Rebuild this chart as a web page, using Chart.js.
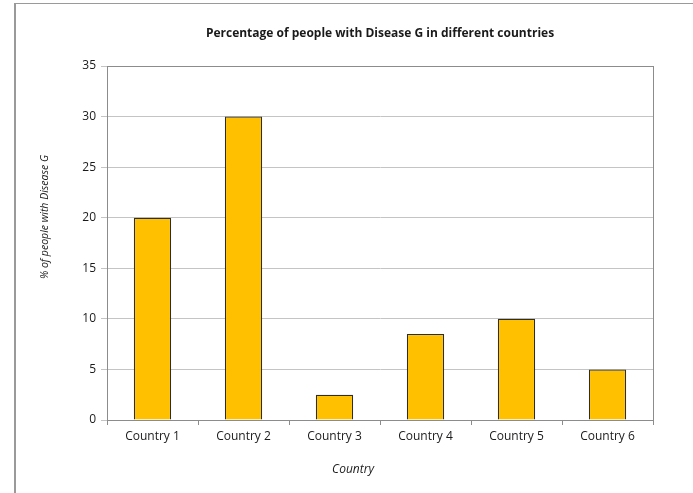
<!DOCTYPE html>
<html>
<head>
<meta charset="utf-8">
<script src="https://cdn.jsdelivr.net/npm/chart.js@4/dist/chart.umd.min.js"></script>
<style>
  html, body { margin: 0; padding: 0; background: #fff; }
  #wrap { position: relative; width: 693px; height: 493px; }
  #frame { position: absolute; left: 14px; top: 3px; right: 0; bottom: 0;
           border-left: 2px solid #9a9a9a; border-top: 1px solid #9a9a9a; }
  #chart { position: absolute; left: 0; top: 0; }
</style>
</head>
<body>
<div id="wrap">
  <div id="frame"></div>
  <canvas id="chart" width="693" height="493"></canvas>
</div>
<script>
  var countries = ['Country 1', 'Country 2', 'Country 3', 'Country 4', 'Country 5', 'Country 6'];
  var percentValues = [20, 30, 2.5, 8.5, 10, 5];
  var chartTitle = 'Percentage of people with Disease G in different countries';
  var yTitle = '% of people with Disease G';
  var xTitle = 'Country';

  var fontFamily = '"Open Sans", "DejaVu Sans", sans-serif';

  // titles and the plot frame, placed against the chart area
  var decorations = {
    id: 'decorations',
    afterDraw: function (chart) {
      var ctx = chart.ctx, a = chart.chartArea;
      ctx.save();
      ctx.strokeStyle = '#8c8c8c';
      ctx.lineWidth = 1;
      ctx.strokeRect(Math.round(a.left) + 0.5, Math.round(a.top) + 0.5,
        Math.round(a.right - a.left), Math.round(a.bottom - a.top));

      ctx.fillStyle = '#1a1a1a';
      ctx.textAlign = 'center';
      ctx.textBaseline = 'middle';
      ctx.font = 'bold 12px ' + fontFamily;
      ctx.fillText(chartTitle, (a.left + a.right) / 2, 34);

      ctx.font = 'italic 12px ' + fontFamily;
      ctx.fillText(xTitle, 353, 470);

      ctx.font = 'italic 10.5px ' + fontFamily;
      ctx.translate(45, 217);
      ctx.rotate(-Math.PI / 2);
      ctx.fillText(yTitle, 0, 0);
      ctx.restore();
    }
  };

  new Chart(document.getElementById('chart'), {
    type: 'bar',
    data: {
      labels: countries,
      datasets: [{
        data: percentValues,
        backgroundColor: '#FFC000',
        borderColor: '#2e2e2e',
        borderWidth: 1.2,
        categoryPercentage: 1,
        barPercentage: 0.41
      }]
    },
    options: {
      responsive: false,
      animation: false,
      layout: { padding: { top: 66, right: 40, left: 0, bottom: 0 } },
      plugins: { legend: { display: false }, tooltip: { enabled: false } },
      scales: {
        x: {
          afterFit: function (s) { s.height = 73; },
          grid: { offset: true, drawOnChartArea: false, tickLength: 5, color: '#8c8c8c' },
          border: { color: '#8c8c8c' },
          ticks: { padding: 4, color: '#1a1a1a', font: { family: fontFamily, size: 12 } }
        },
        y: {
          min: 0,
          max: 35,
          afterFit: function (s) { s.width = 107; },
          grid: { tickLength: 6, color: '#c4c4c4' },
          border: { color: '#8c8c8c' },
          ticks: { stepSize: 5, padding: 5, color: '#1a1a1a', font: { family: fontFamily, size: 12 } }
        }
      }
    },
    plugins: [decorations]
  });
</script>
</body>
</html>
